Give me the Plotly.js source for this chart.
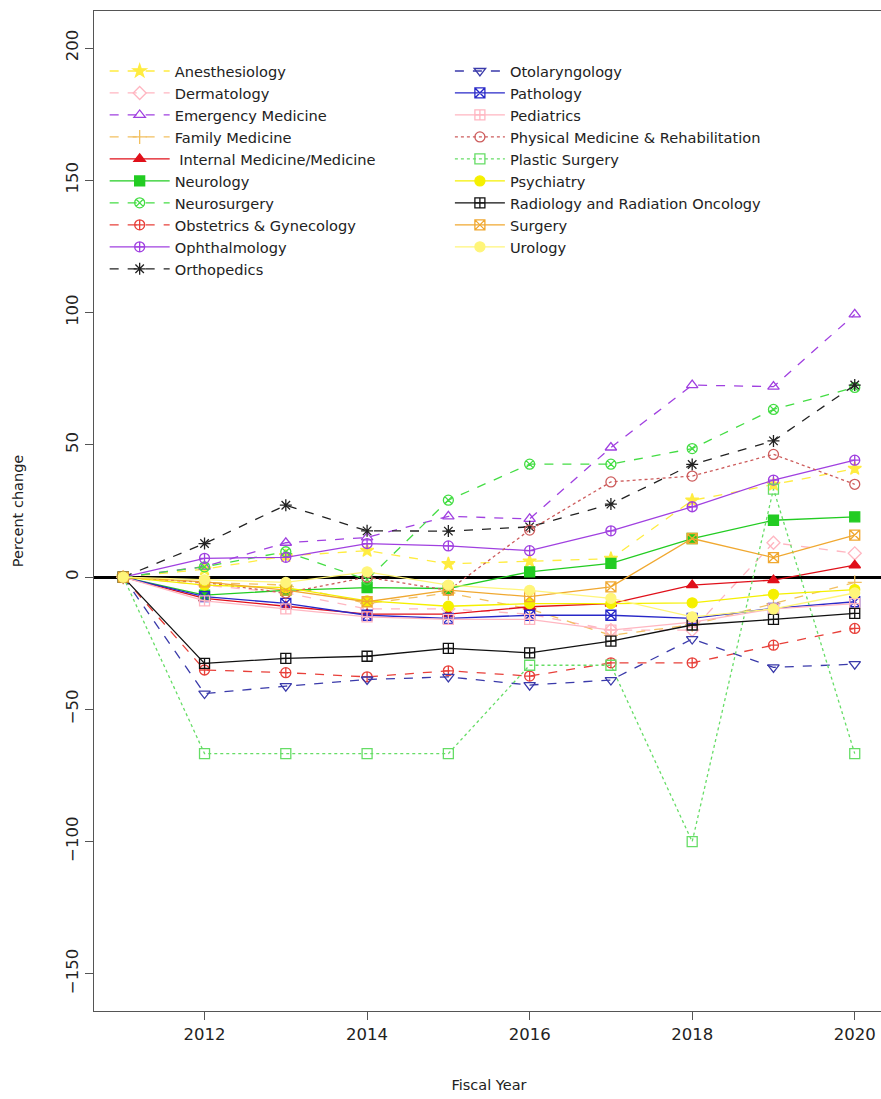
<!DOCTYPE html>
<html><head><meta charset="utf-8">
<script src="https://cdn.plot.ly/plotly-3.0.1.min.js"></script>
<style>html,body{margin:0;padding:0;overflow:hidden;background:#fff}#chart{width:886px;height:1099px}</style>
</head><body><div id="chart"></div>
<script>
var years = [2011, 2012, 2013, 2014, 2015, 2016, 2017, 2018, 2019, 2020];
var specialties = ["Anesthesiology","Dermatology","Emergency Medicine","Family Medicine"," Internal Medicine/Medicine","Neurology","Neurosurgery","Obstetrics & Gynecology","Ophthalmology","Orthopedics","Otolaryngology","Pathology","Pediatrics","Physical Medicine & Rehabilitation","Plastic Surgery","Psychiatry","Radiology and Radiation Oncology","Surgery","Urology"];
var anesthesiology = [0, 3, 8, 10, 5, 6, 7, 29, 35, 41];
var dermatology = [0, -3, -6, -12, -12, -14, -20, -20, 13, 9];
var emergencyMedicine = [0, 4, 13, 15, 23, 22, 49, 72.6, 72, 99.3];
var familyMedicine = [0, -2, -3, -10, -6, -12, -22, -18, -10, -2];
var internalMedicine = [0, -8, -11, -14, -14, -11.2, -10, -3, -1.1, 4.5];
var neurology = [0, -6.8, -5, -4, -4.3, 2, 5.2, 14.6, 21.5, 22.8];
var neurosurgery = [0, 3.9, 9.6, -1, 29.1, 42.7, 42.7, 48.6, 63.4, 71.7];
var obstetrics = [0, -35.1, -36.1, -37.7, -35.4, -37.4, -32.4, -32.4, -25.7, -19.4];
var ophthalmology = [0, 7.1, 7.5, 12.7, 11.8, 10, 17.5, 26.6, 36.7, 44.2];
var orthopedics = [0, 12.7, 27.2, 17.5, 17.4, 19, 27.6, 42.6, 51.5, 72.6];
var otolaryngology = [0, -44, -41.2, -38.7, -37.7, -40.8, -38.9, -23.4, -34.1, -32.9];
var pathology = [0, -7.4, -9.9, -14.4, -15.6, -14.4, -14.4, -15.6, -11.8, -9.3];
var pediatrics = [0, -9, -12, -15, -16, -16, -20, -17, -12, -10];
var physicalMedicine = [0, -2, -6, 0, -5, 17.8, 36, 38.2, 46.4, 35.1];
var plasticSurgery = [0, -66.7, -66.7, -66.7, -66.7, -33.3, -33.3, -100, 33.3, -66.7];
var psychiatry = [0, -3, -4, -9, -11, -10, -10, -9.7, -6.5, -4.7];
var radiology = [0, -32.6, -30.7, -29.9, -26.9, -28.6, -24.2, -18.1, -16, -13.7];
var surgery = [0, -1.8, -4.9, -9.3, -4.9, -7.4, -3.7, 14.6, 7.4, 15.9];
var urology = [0, -1, -2, 2, -3, -5, -8, -15, -12, -6];

var seriesValues = [anesthesiology, dermatology, emergencyMedicine, familyMedicine, internalMedicine, neurology, neurosurgery, obstetrics, ophthalmology, orthopedics, otolaryngology, pathology, pediatrics, physicalMedicine, plasticSurgery, psychiatry, radiology, surgery, urology];
var colors = ["#FFEC40","#FFB6C1","#A040E0","#F2C060","#E0101A","#22CC22","#44DD44","#E8403A","#A040E0","#222222","#3A3AAA","#2828C8","#FFB6C1","#CD5C5C","#66DD66","#F5F000","#111111","#F0A830","#FFF57A"];
var dashes = ["dash","dash","dash","dash","solid","solid","dash","dash","solid","dash","dash","solid","solid","dot","dot","solid","solid","solid","solid"];
var symbols = ["star","diamond-open","triangle-up-open","cross-thin-open","triangle-up","square","circle-x-open","circle-cross-open","circle-cross-open","asterisk-open","triangle-down-open","square-x-open","square-cross-open","circle-open","square-open","circle","square-cross-open","square-x-open","circle"];

var traces = specialties.map(function(name, i){
  return {
    type: "scatter", mode: "lines+markers", name: name,
    x: years, y: seriesValues[i],
    line: {color: colors[i], width: 1.3, dash: dashes[i]},
    marker: {symbol: symbols[i], size: 10, color: colors[i], line: {color: colors[i], width: 1.3}},
    legend: i < 10 ? "legend" : "legend2"
  };
});

var fontFam = "DejaVu Sans, Liberation Sans, Arial, sans-serif";
var legendCommon = {bgcolor: "rgba(0,0,0,0)", borderwidth: 0, font: {family: fontFam, size: 14.6, color: "#222"}, yanchor: "top", xanchor: "left"};
var layout = {
  width: 886, height: 1099,
  margin: {l: 94, r: 1.5, t: 11, b: 88},
  paper_bgcolor: "#fff", plot_bgcolor: "#fff",
  font: {family: fontFam, color: "#222"},
  showlegend: true,
  legend: Object.assign({x: 0.0135, y: 0.956, itemwidth: 60}, legendCommon),
  legend2: Object.assign({x: 0.4505, y: 0.956, itemwidth: 50}, legendCommon),
  xaxis: {range: [2010.64, 2020.36], tickvals: [2012, 2014, 2016, 2018, 2020], ticks: "outside", ticklen: 8, tickcolor: "#555", showgrid: false, zeroline: false, showline: true, mirror: true, linecolor: "#555", linewidth: 1, tickfont: {size: 16.5}, title: {text: "Fiscal Year", font: {size: 14.5}, standoff: 37}},
  yaxis: {range: [-164, 214], tickvals: [-150, -100, -50, 0, 50, 100, 150, 200], tickangle: -90, ticks: "outside", ticklen: 8, tickcolor: "#555", showgrid: false, zeroline: true, zerolinecolor: "#000", zerolinewidth: 3, showline: true, mirror: true, linecolor: "#555", linewidth: 1, tickfont: {size: 16.5}, title: {text: "Percent change", font: {size: 14.5}, standoff: 36}}
};
Plotly.newPlot("chart", traces, layout, {displayModeBar: false, staticPlot: true});
</script></body></html>
